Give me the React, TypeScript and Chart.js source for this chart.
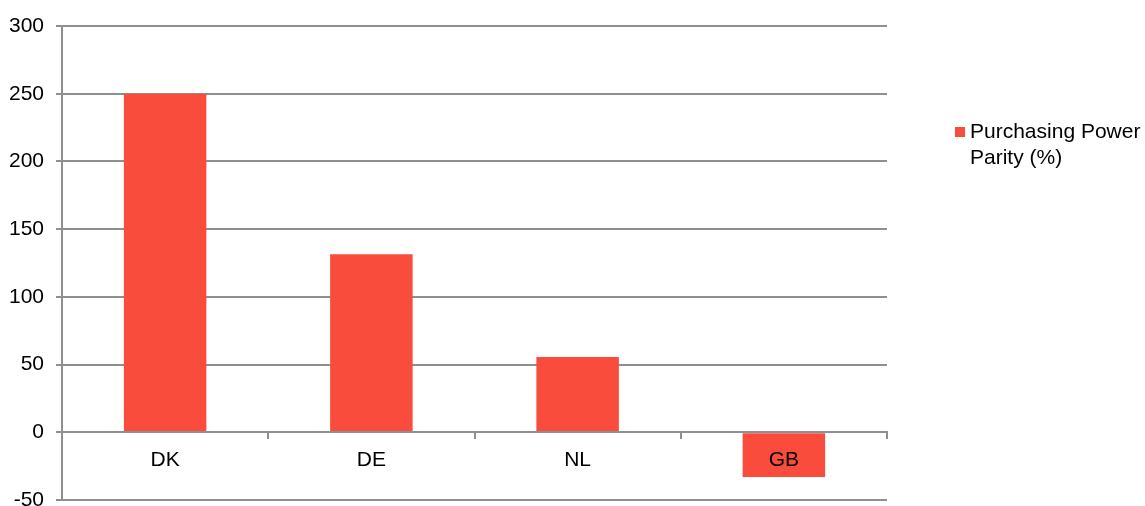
import React, { useEffect, useRef } from "react";
import { Chart, registerables } from "chart.js";

Chart.register(...registerables);

const categories = ["DK", "DE", "NL", "GB"];
const seriesLabel = ["Purchasing Power", "Parity (%)"];
const pppValues = [250, 131.5, 55.5, -33];
const yTicks = { min: -50, max: 300, step: 50 };

const BAR_COLOR = "#f94c3c";
const GRID_COLOR = "#8f8f8f";
const FONT = "'Liberation Sans', Arial, sans-serif";
const FONT_SIZE = 21;

const legendPlugin = {
  id: "sideLegend",
  afterDraw(chart: any) {
    const ctx = chart.ctx;
    const x = chart.chartArea.right + 68;
    const y = 127;
    ctx.save();
    ctx.fillStyle = BAR_COLOR;
    ctx.fillRect(x, y, 10, 10);
    ctx.fillStyle = "#000";
    ctx.font = `${FONT_SIZE}px ${FONT}`;
    ctx.textBaseline = "middle";
    ctx.textAlign = "left";
    seriesLabel.forEach((line, i) => {
      ctx.fillText(line, x + 15, y + 5 + i * 26);
    });
    ctx.restore();
  },
};

export default function App() {
  const ref = useRef<HTMLCanvasElement>(null);
  useEffect(() => {
    if (!ref.current) return;
    const chart = new Chart(ref.current, {
      type: "bar",
      data: {
        labels: categories,
        datasets: [
          {
            label: seriesLabel.join(" "),
            data: pppValues,
            backgroundColor: BAR_COLOR,
            borderWidth: 0,
            categoryPercentage: 0.8,
            barPercentage: 0.5,
          },
        ],
      },
      options: {
        animation: false,
        responsive: false,
        maintainAspectRatio: false,
        layout: { padding: { top: 26, right: 258, bottom: 6, left: 0 } },
        plugins: { legend: { display: false }, tooltip: { enabled: false } },
        scales: {
          x: {
            position: { y: 0 },
            offset: true,
            grid: {
              offset: true,
              drawOnChartArea: false,
              drawTicks: true,
              tickLength: 6,
              color: GRID_COLOR,
              lineWidth: 2,
              z: 1,
            },
            border: { display: true, color: GRID_COLOR, width: 2, z: 1 },
            ticks: {
              color: "#000",
              font: { family: FONT, size: FONT_SIZE },
              padding: 9,
              maxRotation: 0,
              z: 2,
            },
            afterFit: (s: any) => {
              s.height = 0;
            },
          },
          y: {
            min: yTicks.min,
            max: yTicks.max,
            ticks: {
              stepSize: yTicks.step,
              color: "#000",
              font: { family: FONT, size: FONT_SIZE },
              padding: 12,
            },
            grid: {
              color: GRID_COLOR,
              lineWidth: 2,
              tickLength: 6,
            },
            border: { display: true, color: GRID_COLOR, width: 2 },
            afterFit: (s: any) => {
              s.width = 62;
              s.paddingTop = 0;
              s.paddingBottom = 0;
            },
          },
        },
      },
      plugins: [legendPlugin],
    });
    return () => chart.destroy();
  }, []);
  return (
    <div style={{ position: "fixed", left: 0, top: 0, width: 1145, height: 506, background: "#fff" }}>
      <canvas ref={ref} width={1145} height={506} style={{ display: "block" }} />
    </div>
  );
}
